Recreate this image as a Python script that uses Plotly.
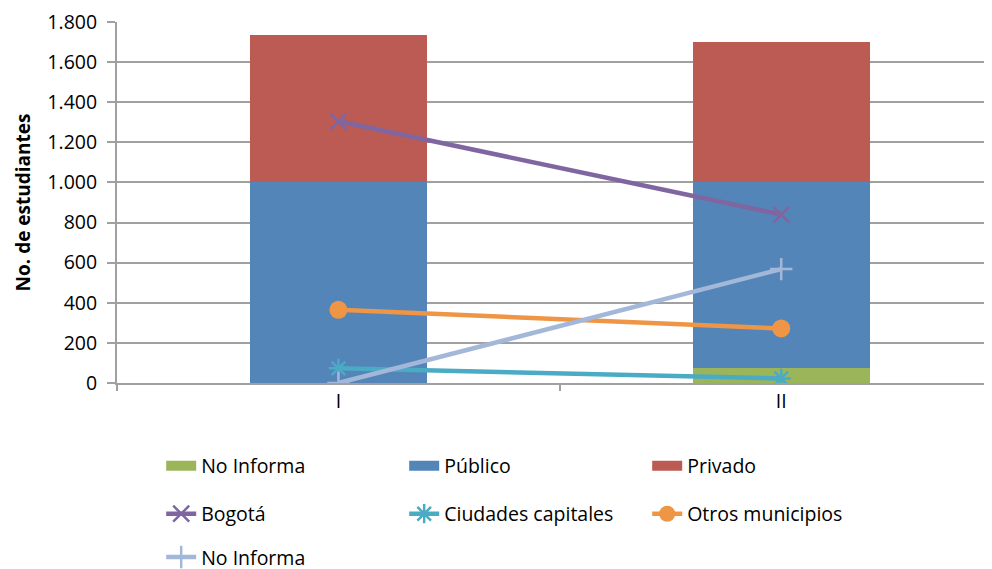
import plotly.graph_objects as go

categories = ["I", "II"]
x_pos = [0, 1]

bar_no_informa = [0, 73]
bar_publico = [1000, 927]
bar_privado = [737, 700]

bogota = [1305, 840]
ciudades = [73, 23]
otros = [365, 272]
line_no_informa = [0, 568]

yticks = [0, 200, 400, 600, 800, 1000, 1200, 1400, 1600, 1800]

FONT = "Open Sans"
C_NOINF_BAR = "#9BB55B"
C_PUB = "#5385B8"
C_PRIV = "#BB5B53"
C_BOG = "#8066A1"
C_CIU = "#4BAAC4"
C_OTR = "#EE9646"
C_NOINF_LINE = "#A3B7D9"

fig = go.Figure()

bar_w = 0.4
for vals, name, col in [(bar_no_informa, "No Informa", C_NOINF_BAR),
                        (bar_publico, "Público", C_PUB),
                        (bar_privado, "Privado", C_PRIV)]:
    fig.add_trace(go.Bar(x=x_pos, y=vals, name=name, marker_color=col,
                         width=bar_w, marker_line_width=0, showlegend=False))

# legend swatches for bars (wide rectangles)
for name, col in [("No Informa", C_NOINF_BAR), ("Público", C_PUB), ("Privado", C_PRIV)]:
    fig.add_trace(go.Scatter(x=[None], y=[None], mode="lines", name=name,
                             line=dict(color=col, width=10), legend="legend",
                             hoverinfo="skip"))

fig.add_trace(go.Scatter(x=x_pos, y=bogota, name="Bogotá", mode="lines+markers",
                         line=dict(color=C_BOG, width=4.5), legend="legend2",
                         marker=dict(symbol="x-thin-open", size=16,
                                     line=dict(color=C_BOG, width=2.5))))
fig.add_trace(go.Scatter(x=x_pos, y=ciudades, name="Ciudades capitales", mode="lines+markers",
                         line=dict(color=C_CIU, width=4.5), legend="legend2",
                         marker=dict(symbol="asterisk-open", size=16,
                                     line=dict(color=C_CIU, width=2.5))))
fig.add_trace(go.Scatter(x=x_pos, y=otros, name="Otros municipios", mode="lines+markers",
                         line=dict(color=C_OTR, width=4.5), legend="legend2",
                         marker=dict(symbol="circle", size=18, color=C_OTR)))
fig.add_trace(go.Scatter(x=x_pos, y=line_no_informa, name="No Informa", mode="lines+markers",
                         line=dict(color=C_NOINF_LINE, width=4.5), legend="legend3",
                         marker=dict(symbol="cross-thin-open", size=16,
                                     line=dict(color=C_NOINF_LINE, width=2.5))))

leg_common = dict(orientation="h", xanchor="left", yanchor="top",
                  traceorder="normal", entrywidth=198, entrywidthmode="pixels",
                  font=dict(family=FONT, size=19.5, color="black"),
                  bgcolor="rgba(0,0,0,0)")

fig.update_layout(
    barmode="stack",
    width=984, height=580,
    margin=dict(l=109, r=0, t=12, b=205),
    plot_bgcolor="white", paper_bgcolor="white",
    separators=",.",
    font=dict(family=FONT, size=19.5, color="black"),
    showlegend=True,
    legend=dict(x=0.0505, y=-0.176, **leg_common),
    legend2=dict(x=0.0505, y=-0.309, **leg_common),
    legend3=dict(x=0.0505, y=-0.429, **leg_common),
    xaxis=dict(range=[-0.5, 1.476], tickvals=x_pos, ticktext=categories,
               showgrid=False, zeroline=False, showline=True, linecolor="#A0A0A0",
               linewidth=2, ticks="", tickfont=dict(size=19.5, family=FONT),
               minor=dict(tickmode="array", tickvals=[-0.5, 0.5, 1.5], ticks="outside",
                          ticklen=6, tickcolor="#A0A0A0", tickwidth=2, showgrid=False)),
    yaxis=dict(range=[0, 1800], tickvals=yticks, tickformat=",d",
               showgrid=True, gridcolor="#A0A0A0", gridwidth=1.5,
               zeroline=False, showline=True, linecolor="#A0A0A0", linewidth=2,
               ticks="outside", ticklen=8, tickcolor="#A0A0A0", tickwidth=2,
               ticklabelstandoff=6, ticklabeloverflow="allow",
               tickfont=dict(size=19.5, family=FONT),
               title=dict(text="<b>No. de estudiantes</b>", font=dict(size=19, family=FONT),
                          standoff=12)),
)

fig.write_html("out.html")
